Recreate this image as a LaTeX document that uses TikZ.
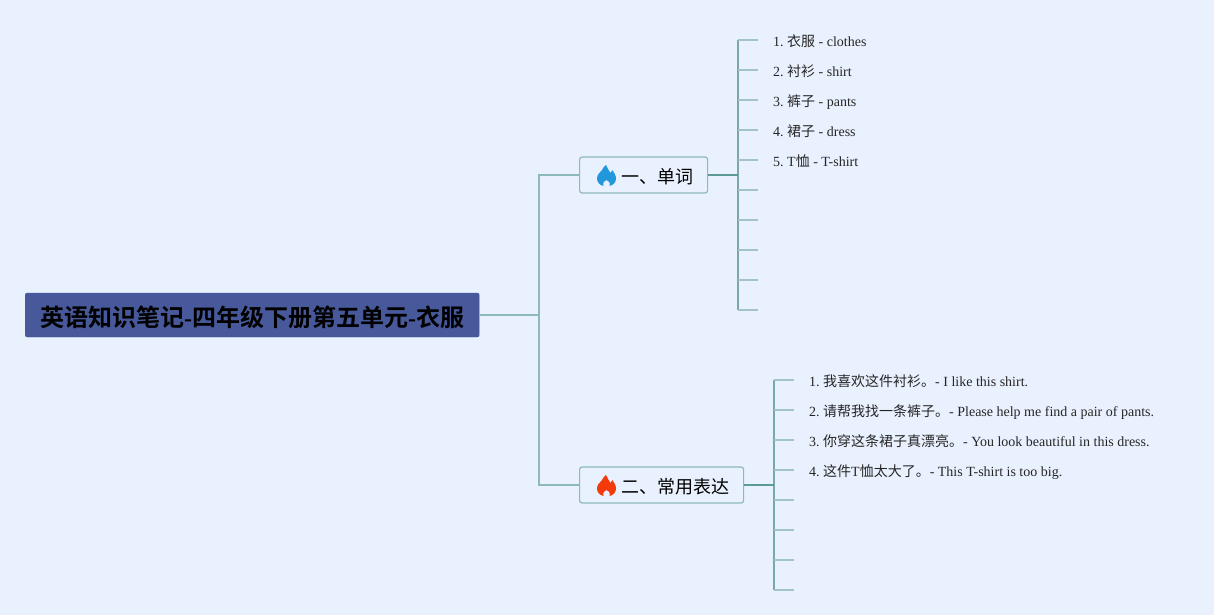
\documentclass[tikz,border=0pt]{standalone}
\usepackage{fontspec}
\setmainfont{Liberation Serif}
\newfontfamily\cjk{Noto Sans CJK SC}
\newfontfamily\cjkbold{Noto Sans CJK SC Bold}
\newcommand{\zh}[1]{{\cjk #1}}
\frenchspacing
\definecolor{pagebg}{HTML}{E9F1FE}
\definecolor{rootfill}{HTML}{47599A}
\definecolor{linemain}{HTML}{8DB8BC}
\definecolor{linedark}{HTML}{5C9A98}
\definecolor{linetrunk}{HTML}{78A8A8}
\definecolor{linestub}{HTML}{A3C4C6}
\definecolor{flameblue}{HTML}{2397DC}
\definecolor{flamered}{HTML}{F23A0C}
\tikzset{
  rootbox/.style={draw=rootfill, fill=rootfill, rounded corners=2pt, anchor=west, inner sep=0pt,
    minimum width=454pt, minimum height=44pt, font=\fontsize{24pt}{28pt}\selectfont},
  branchbox/.style={draw=linemain, line width=1.2pt, rounded corners=2.5pt, anchor=west, inner sep=0pt,
    minimum height=36pt, font=\cjk\fontsize{18pt}{22pt}\selectfont},
  leaf/.style={anchor=base west, inner sep=0pt, text=black!85, font=\fontsize{14pt}{17pt}\selectfont},
  link/.style={linemain, line width=1.3pt},
  stem/.style={linedark, line width=1.6pt},
  trunk/.style={linetrunk, line width=1.4pt},
  stub/.style={linestub, line width=1.2pt},
  pics/flame/.style={code={
    \fill[#1] (-0.5,10.5) .. controls (0.5,7) and (3,5) .. (4,2.5)
      .. controls (5,3.2) and (5.5,4.2) .. (5.8,5.5) .. controls (8,3) and (9.5,-0.5) .. (9.5,-3)
      .. controls (9.5,-7) and (6.5,-9.8) .. (3,-10.5) .. controls (4.2,-8.5) and (3.5,-6.5) .. (0,-4.5)
      .. controls (-3.5,-6.5) and (-4.2,-8.5) .. (-3,-10.5) .. controls (-6.5,-9.8) and (-9.5,-7) .. (-9.5,-3)
      .. controls (-9.5,1) and (-6.5,3) .. (-4.5,5.5) .. controls (-3.5,7) and (-2.5,9.5) .. (-0.5,10.5) -- cycle;
  }},
}
\begin{document}
\begin{tikzpicture}[x=1pt, y=1pt]
  \fill[pagebg] (0,0) rectangle (1214,-615);
  \useasboundingbox (0,0) rectangle (1214,-615);
  % main boxes
  \node[rootbox] (root) at (25,-315) {\raisebox{-11pt}[0pt][0pt]{{\cjkbold 英语知识笔记}\textbf{-}{\cjkbold 四年级下册第五单元}\textbf{-}{\cjkbold 衣服}}};
  \node[branchbox] (words) at (579,-175) {\kern42pt\raisebox{-8pt}[0pt][0pt]{一、单词}\kern14pt};
  \node[branchbox] (phrases) at (579,-485) {\kern42pt\raisebox{-8pt}[0pt][0pt]{二、常用表达}\kern14pt};
  \pic at (606.5,-175.5) {flame=flameblue};
  \pic at (606.5,-485.5) {flame=flamered};
  % root to branches
  \coordinate (fork) at (539,-315);
  \draw[link] (words.west) -- (words.west -| fork) -- (phrases.west -| fork) -- (phrases.west);
  \draw[link] (root.east) -- (fork);
  % words
  \coordinate (wordtop) at (738,-40);
  \coordinate (wordbottom) at (738,-310);
  \draw[trunk] (wordtop) -- (wordbottom);
  \draw[stem] (words.east) -- (words.east -| wordtop);
  \foreach \i in {1,...,10} {
    \coordinate (wordstub\i) at (758,-10-30*\i);
    \draw[stub] (wordstub\i -| wordtop) -- (wordstub\i);
  }
  \node[leaf] (word1) at (773,-46.4) {1. \zh{衣服} - clothes};
  \node[leaf] (word2) at (773,-76.4) {2. \zh{衬衫} - shirt};
  \node[leaf] (word3) at (773,-106.4) {3. \zh{裤子} - pants};
  \node[leaf] (word4) at (773,-136.4) {4. \zh{裙子} - dress};
  \node[leaf] (word5) at (773,-166.4) {5. T\zh{恤} - T-shirt};
  % phrases
  \coordinate (phrasetop) at (774,-380);
  \coordinate (phrasebottom) at (774,-590);
  \draw[trunk] (phrasetop) -- (phrasebottom);
  \draw[stem] (phrases.east) -- (phrases.east -| phrasetop);
  \foreach \i in {1,...,8} {
    \coordinate (phrasestub\i) at (794,-350-30*\i);
    \draw[stub] (phrasestub\i -| phrasetop) -- (phrasestub\i);
  }
  \node[leaf] (phrase1) at (809,-386.4) {1. \zh{我喜欢这件衬衫。}- I like this shirt.};
  \node[leaf] (phrase2) at (809,-416.4) {2. \zh{请帮我找一条裤子。}- Please help me find a pair of pants.};
  \node[leaf] (phrase3) at (809,-446.4) {3. \zh{你穿这条裙子真漂亮。}- You look beautiful in this dress.};
  \node[leaf] (phrase4) at (809,-476.4) {4. \zh{这件}T\zh{恤太大了。}- This T-shirt is too big.};
\end{tikzpicture}
\end{document}
